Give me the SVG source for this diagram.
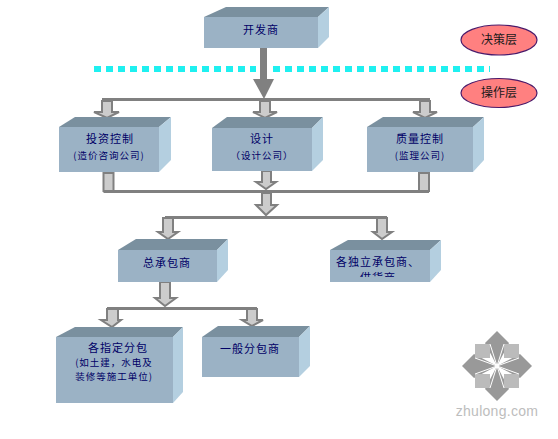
<svg xmlns="http://www.w3.org/2000/svg" width="558" height="439" viewBox="0 0 558 439">
<style>
.front{fill:#9bb2c5}
.top{fill:#7a909f}
.side{fill:#b4cfe0}
.t{font-family:"Noto Sans CJK SC","Liberation Sans",sans-serif;fill:#000066;text-anchor:middle;font-size:11px;letter-spacing:1px}
.s{font-size:9.5px;letter-spacing:1px}
.l{font-family:"Noto Sans CJK SC","Liberation Sans",sans-serif;fill:#1a1a1a;text-anchor:middle;font-size:12px}
.el{fill:#ff8080;stroke:#4a1a6a;stroke-width:1.2}
.ln{fill:none;stroke:#808080;stroke-width:3}
.ar{fill:#cccccc;stroke:#808080;stroke-width:2;stroke-linejoin:miter}
.big{fill:#808080}
.dot{stroke:#1ff0f0;stroke-width:6;stroke-dasharray:7 5;fill:none}
.lg{fill:#999999}
.sq{fill:#bbbbbb}
.wl{stroke:#ffffff;stroke-width:1;fill:none}
</style>
<defs>
<clipPath id="clip-dl"><rect x="330" y="250" width="100" height="27"/></clipPath>
</defs>
<g id="divider"><path class="dot" d="M94 69H256"/><path class="dot" d="M273 69H490"/></g>
<g id="connectors">
<path class="ln" d="M102 99.500H430"/>
<path class="ln" d="M103.500 191.500H429"/>
<path class="ln" d="M165 217.500H387"/>
<path class="ln" d="M107 308.500H257"/>
<polygon class="big" points="260,48 267,48 267,79 274,79 264,99 253,79 260,79"/>
<polygon class="ar" points="102,101 112,101 112,112 119,112 107,118 94,112 102,112"/>
<polygon class="ar" points="260,101 270,101 270,112 277,112 265,118 253,112 260,112"/>
<polygon class="ar" points="420,101 430,101 430,112 437,112 425,118 413,112 420,112"/>
<rect class="ar" x="103.500" y="173" width="10" height="18"/>
<rect class="ar" x="419" y="173" width="10" height="18"/>
<polygon class="ar" points="262,171 271,171 271,182 276,182 266,189 256,182 262,182"/>
<polygon class="ar" points="262,193 271,193 271,205 277,205 266,215 256,205 262,205"/>
<polygon class="ar" points="163,218 173,218 173,232 178,232 168,239 158,232 163,232"/>
<polygon class="ar" points="377,218 387,218 387,232 392,232 382,239 373,232 377,232"/>
<polygon class="ar" points="160,282 170,282 170,298 176,298 165,306 155,298 160,298"/>
<polygon class="ar" points="107,309 118,309 118,320 121,320 112,327 101,320 107,320"/>
<polygon class="ar" points="247,309 257,309 257,320 263,320 252,326 242,320 247,320"/>
</g>
<g id="n-developer">
<polygon class="top" points="204,17 226,7 329,7 318,17"/><polygon class="side" points="318,17 329,7 329,37 318,48"/><rect class="front" x="204" y="17" width="114" height="31"/>
<text class="t" x="261" y="34">开发商</text>
</g>
<g id="n-invest">
<polygon class="top" points="59,127 75,117 171,117 159,127"/><polygon class="side" points="159,127 171,117 171,160 159,172"/><rect class="front" x="59" y="127" width="100" height="45"/>
<text class="t" x="110" y="143">投资控制</text><text class="t s" x="109" y="159">(造价咨询公司)</text>
</g>
<g id="n-design">
<polygon class="top" points="212,128 227,117 323,117 312,128"/><polygon class="side" points="312,128 323,117 323,160 312,171"/><rect class="front" x="212" y="128" width="100" height="43"/>
<text class="t" x="262" y="143">设计</text><text class="t s" x="262" y="159">（设计公司）</text>
</g>
<g id="n-quality">
<polygon class="top" points="367,127 383,117 484,117 473,127"/><polygon class="side" points="473,127 484,117 484,160 473,172"/><rect class="front" x="367" y="127" width="106" height="45"/>
<text class="t" x="420" y="143">质量控制</text><text class="t s" x="420" y="159">(监理公司)</text>
</g>
<g id="n-general">
<polygon class="top" points="118,250 136,239 228,239 217,250"/><polygon class="side" points="217,250 228,239 228,270 217,282"/><rect class="front" x="118" y="250" width="99" height="32"/>
<text class="t" x="167" y="267">总承包商</text>
</g>
<g id="n-independent">
<polygon class="top" points="330,250 348,240 441,240 430,250"/><polygon class="side" points="430,250 441,240 441,270 430,282"/><rect class="front" x="330" y="250" width="100" height="32"/>
<g clip-path="url(#clip-dl)"><text class="t" x="378" y="266">各独立承包商、</text><text class="t" x="378" y="282">供货商</text></g>
</g>
<g id="n-designated">
<polygon class="top" points="56,337 75,327 183,327 173,337"/><polygon class="side" points="173,337 183,327 183,392 173,403"/><rect class="front" x="56" y="337" width="117" height="66"/>
<text class="t" x="118" y="352">各指定分包</text><text class="t s" x="114" y="366">(如土建，水电及</text><text class="t s" x="114" y="380">装修等施工单位)</text>
</g>
<g id="n-ordinary">
<polygon class="top" points="202,337 218,326 310,326 299,337"/><polygon class="side" points="299,337 310,326 310,366 299,377"/><rect class="front" x="202" y="337" width="97" height="40"/>
<text class="t" x="250" y="353">一般分包商</text>
</g>
<g id="n-decision"><ellipse class="el" cx="499" cy="40" rx="38" ry="15"/><text class="l" x="499" y="44">决策层</text></g>
<g id="n-operation"><ellipse class="el" cx="499" cy="93" rx="38" ry="14.500"/><text class="l" x="499" y="97">操作层</text></g>
<g id="logo">
<polygon class="lg" points="497,331 509,343 497,366 485,343"/>
<polygon class="lg" points="497,401 509,389 497,366 485,389"/>
<polygon class="lg" points="462,366 474,354 497,366 474,378"/>
<polygon class="lg" points="532,366 520,354 497,366 520,378"/>
<rect class="sq" x="475" y="344" width="15" height="14"/><rect class="sq" x="504" y="344" width="15" height="14"/>
<rect class="sq" x="475" y="374" width="15" height="14"/><rect class="sq" x="504" y="374" width="15" height="14"/>
<path class="wl" d="M490 344L497 366L475 358M504 344L497 366L519 358M490 388L497 366L475 374M504 388L497 366L519 374"/>
<text x="497" y="416" font-family="Liberation Sans, sans-serif" font-size="14" fill="#bdbdbd" text-anchor="middle" letter-spacing="0.3">zhulong.com</text>
</g>
</svg>
